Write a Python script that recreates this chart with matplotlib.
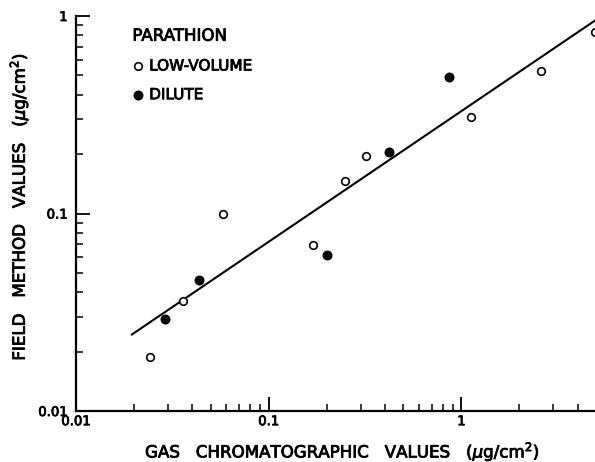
import numpy as np
import matplotlib.pyplot as plt
import matplotlib.patheffects as pe
from matplotlib.text import Text
from matplotlib.ticker import LogLocator, FixedLocator, NullFormatter

plt.rcParams['font.family'] = ['DejaVu Sans']
plt.rcParams['mathtext.fontset'] = 'dejavusans'

# ---------- data ----------
low_x = [0.0243, 0.0361, 0.0581, 0.169, 0.249, 0.320, 1.12, 2.58, 4.92]
low_y = [0.0188, 0.0360, 0.100, 0.069, 0.146, 0.196, 0.309, 0.528, 0.83]
dil_x = [0.0289, 0.0433, 0.200, 0.421, 0.866]
dil_y = [0.0292, 0.0463, 0.0613, 0.205, 0.491]
fit_x = [0.0195, 6.0]
fit_y = [0.0244, 1.08]

x_ticks = [0.01, 0.1, 1]
x_tick_labels = ['0.01', '0.1', '1']
y_ticks = [0.01, 0.1, 1]
y_tick_labels = ['0.01', '0.1', '1']

fig = plt.figure(figsize=(5.95, 4.62), dpi=100)
ax = fig.add_axes([76 / 595, (462 - 411) / 462, 1 - 76 / 595, (411 - 16) / 462])
ax.set_xscale('log')
ax.set_yscale('log')
ax.set_xlim(0.01, 4.93)
ax.set_ylim(0.01, 1)

ax.plot(fit_x, fit_y, color='black', lw=1.5, zorder=2)
h_low = ax.scatter(low_x, low_y, s=30, facecolors='white', edgecolors='black',
                   linewidths=1.2, zorder=3, clip_on=False, label='LOW-VOLUME')
h_dil = ax.scatter(dil_x, dil_y, s=38, facecolors='black', edgecolors='black',
                   linewidths=1.0, zorder=3, label='DILUTE')

for s in ['top', 'right']:
    ax.spines[s].set_visible(False)
for s in ['left', 'bottom']:
    ax.spines[s].set_linewidth(1.6)

ax.xaxis.set_major_locator(FixedLocator(x_ticks))
ax.yaxis.set_major_locator(FixedLocator(y_ticks))
ax.set_xticklabels(x_tick_labels)
ax.set_yticklabels(y_tick_labels)
ax.xaxis.set_minor_locator(LogLocator(base=10, subs=np.arange(2, 10)))
ax.yaxis.set_minor_locator(LogLocator(base=10, subs=np.arange(2, 10)))
ax.xaxis.set_minor_formatter(NullFormatter())
ax.yaxis.set_minor_formatter(NullFormatter())
ax.tick_params(which='major', direction='in', length=10, width=1.3, labelsize=9.5)
ax.tick_params(axis='x', which='major', pad=3)
ax.tick_params(axis='y', which='major', pad=6)
ax.tick_params(which='minor', direction='in', length=5, width=1.1)

ax.set_xlabel(r'GAS   CHROMATOGRAPHIC   VALUES   ($\mu$g/cm$^2$)', fontsize=12)
ax.set_ylabel(r'FIELD   METHOD   VALUES   ($\mu$g/cm$^2$)', fontsize=12)
ax.xaxis.set_label_coords(0.5125, -0.072)
ax.yaxis.set_label_coords(-0.087, 0.516)

leg = ax.legend(handles=[h_low, h_dil], title='PARATHION', loc='upper left',
                bbox_to_anchor=(0.088, 1.0), frameon=False, fontsize=11,
                title_fontsize=12, alignment='left', labelspacing=0.9,
                handletextpad=0.3, handlelength=0.8, borderaxespad=0.3)

# heavier lettering, like the stencilled original
for t in fig.findobj(Text):
    t.set_path_effects([pe.withStroke(linewidth=0.6, foreground='black')])

fig.savefig('out.png', dpi=100)
